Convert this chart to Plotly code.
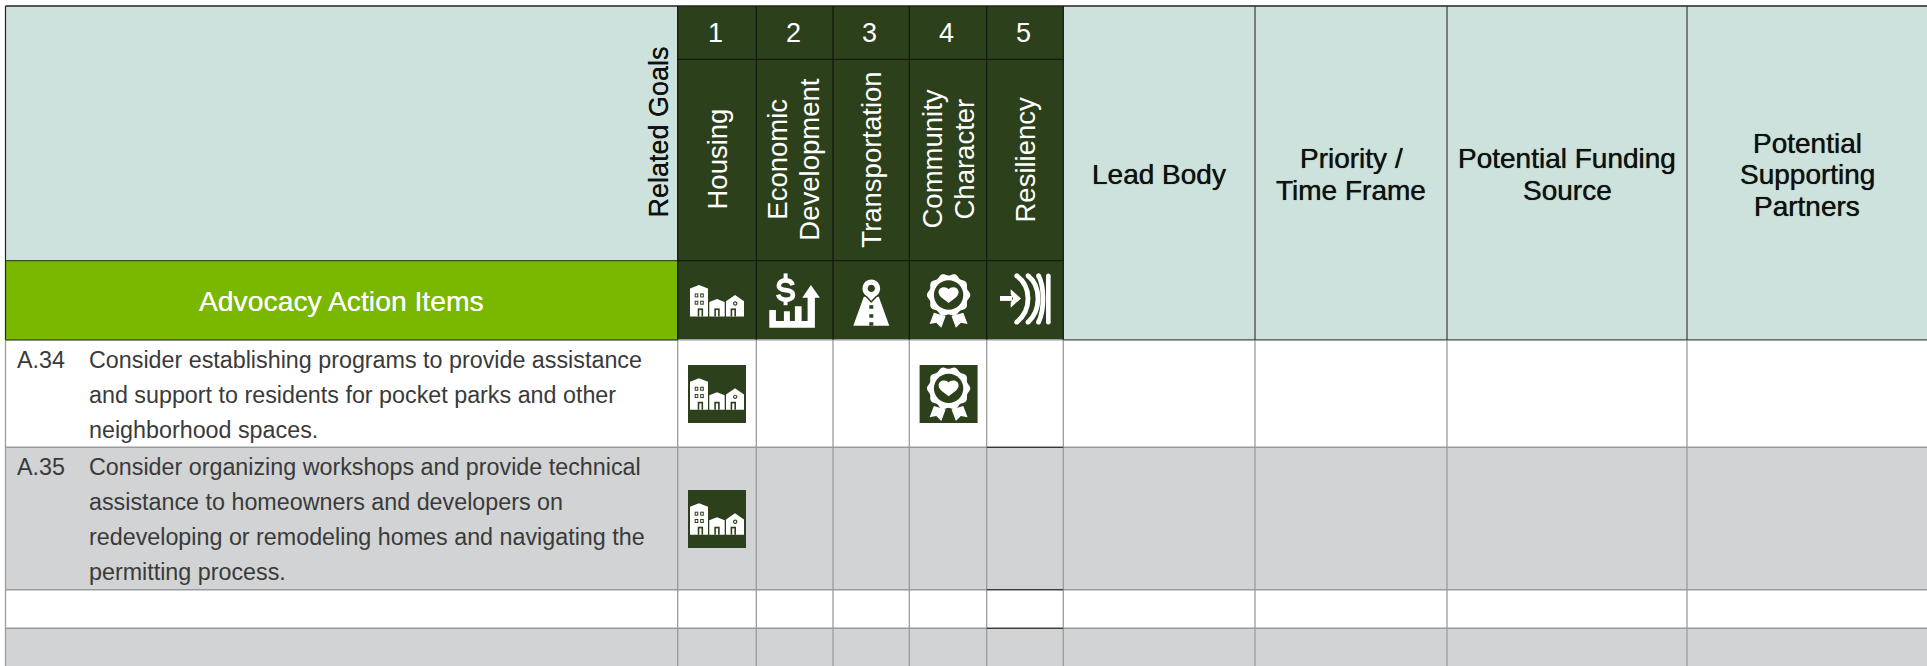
import re
import numpy as np
import plotly.graph_objects as go

# ---------- table content ----------
goal_numbers = ["1", "2", "3", "4", "5"]
goal_names = [["Housing"], ["Economic", "Development"], ["Transportation"],
              ["Community", "Character"], ["Resiliency"]]
goal_icons = ["house", "dollar", "road", "badge", "resil"]
side_headers = [["Lead Body"], ["Priority /", "Time Frame"],
                ["Potential Funding", "Source"],
                ["Potential", "Supporting", "Partners"]]
section_title = "Advocacy Action Items"
related_title = "Related Goals"
item_ids = ["A.34", "A.35", "", ""]
item_lines = [
    ["Consider establishing programs to provide assistance",
     "and support to residents for pocket parks and other",
     "neighborhood spaces."],
    ["Consider organizing workshops and provide technical",
     "assistance to homeowners and developers on",
     "redeveloping or remodeling homes and navigating the",
     "permitting process."],
    [], [],
]
item_goals = [[1, 4], [1], [], []]

# ---------- layout / style ----------
W, H = 1927, 666
X_LEFT = 5.5
GOAL_X = [677.7, 756.3, 833, 909.3, 986.7, 1063.3]
GOAL_LABEL_DX = [0, -1.5, 0, 0, 0]
SIDE_X = [1063.3, 1255, 1447, 1687, 1927]
Y_TOP, Y_NUM, Y_NAME, Y_HEAD = 6, 59.3, 260.7, 339.8
ROW_Y = [339.8, 447.3, 589.7, 628.3, 666]
LIGHT, GREEN, DARK, GREY = "#CDE2DC", "#7AB800", "#2D401C", "#D1D3D4"
LINE_GREY, LINE_DARK = "#9A9B9D", "#141A0C"
FONT = "Liberation Sans"
LIGHT_TXT = "#3a3a3a"

shapes, annos = [], []


def rect(x0, y0, x1, y1, fill):
    shapes.append(dict(type="rect", x0=x0, y0=y0, x1=x1, y1=y1, fillcolor=fill,
                       line=dict(width=0), layer="below"))


def line(x0, y0, x1, y1, color, w=1.2):
    shapes.append(dict(type="line", x0=x0, y0=y0, x1=x1, y1=y1,
                       line=dict(color=color, width=w), layer="above"))


def text(x, y, s, size, color="#000", angle=0, anchor="center", weight=None, family=FONT, shadow=None):
    f = dict(family=family, size=size, color=color)
    if weight:
        f["weight"] = weight
    if shadow:
        f["shadow"] = shadow
    annos.append(dict(x=x, y=y, text=s, showarrow=False, textangle=angle, xanchor=anchor,
                      yanchor="middle", font=f, xref="x", yref="y"))


def path(ox, oy, d, fill=None, stroke=None, w=0):
    nums = iter(range(10**6))

    def rep(m):
        i = next(nums)
        v = float(m.group(0)) + (ox if i % 2 == 0 else oy)
        return f"{v:.2f}"
    d2 = re.sub(r"-?\d+\.?\d*", rep, d)
    s = dict(type="path", path=d2, layer="above",
             line=dict(width=w, color=stroke if stroke else "rgba(0,0,0,0)"))
    if fill:
        s["fillcolor"] = fill
    shapes.append(s)


def circ(cx, cy, r):
    k = 0.5523 * r
    return (f"M{cx-r} {cy} C{cx-r} {cy-k} {cx-k} {cy-r} {cx} {cy-r} "
            f"C{cx+k} {cy-r} {cx+r} {cy-k} {cx+r} {cy} "
            f"C{cx+r} {cy+k} {cx+k} {cy+r} {cx} {cy+r} "
            f"C{cx-k} {cy+r} {cx-r} {cy+k} {cx-r} {cy} Z")


def box(x0, y0, x1, y1):
    return f"M{x0} {y0} L{x1} {y0} L{x1} {y1} L{x0} {y1} Z"


def icon_house(ox, oy):
    W_ = "#FFFFFF"
    path(ox, oy, "M2 16.8 L11 13.3 L20 16.8 L20 44.7 L2 44.7 Z", W_)
    path(ox, oy, "M21.3 30.3 L29 27.3 L36.7 30.3 L36.7 44.7 L21.3 44.7 Z", W_)
    path(ox, oy, "M38 29.5 L47 23.3 L56 29.5 L56 44.7 L38 44.7 Z", W_)
    for wx in (6.7, 12.2):
        for wy in (21.7, 29):
            path(ox, oy, box(wx, wy, wx + 3.6, wy + 4), DARK)
            path(ox, oy, box(wx + 1, wy + 1, wx + 2.6, wy + 3), W_)
    for dx in (9.7, 26.3, 42.6):
        path(ox, oy, box(dx, 36.7, dx + 5.4, 44.7), DARK)
        path(ox, oy, box(dx + 1.6, 38.4, dx + 3.8, 44.7), W_)
    path(ox, oy, circ(47.2, 31.8, 2.2), DARK)
    path(ox, oy, circ(47.2, 31.8, 1), W_)


def icon_dollar(ox, oy):
    W_ = "#FFFFFF"
    path(ox, oy, "M26 13.5 C25 10 22.5 8.7 19 8.7 C15 8.7 12.2 10.7 12.2 13.8 C12.2 17 15 18.1 19 18.4 "
                 "C23 18.7 26.3 20 26.3 23.2 C26.3 26.3 23 28 19 28 C15 28 12.5 26.5 11.5 23",
         None, W_, 4.6)
    path(ox, oy, box(17, 1.7, 21, 7), W_)
    path(ox, oy, box(17, 29, 21, 33.5), W_)
    path(ox, oy, "M2.7 38.3 L9.3 38.3 L9.3 49.3 L17.3 49.3 L17.3 39.5 L23.3 39.5 L23.3 49.3 "
                 "L28.3 49.3 L28.3 34.5 L35 34.5 L35 49.3 L41 49.3 L41 26 L35.7 26 L44.3 13.3 L53.3 26 "
                 "L48.3 26 L48.3 56 L2.7 56 Z", W_)


def icon_road(ox, oy):
    W_ = "#FFFFFF"
    path(ox, oy, "M20.5 25 L35.5 25 L46 54 L10 54 Z", W_)
    path(ox, oy, circ(28, 16.7, 8.8), DARK, DARK, 2.5)
    path(ox, oy, "M20 21 L28 29.5 L36 21 Z", DARK, DARK, 2.5)
    path(ox, oy, circ(28, 16.7, 8.8), W_)
    path(ox, oy, "M20.2 20.5 L28 29 L35.8 20.5 Z", W_)
    path(ox, oy, circ(28, 16.7, 3.6), DARK)
    for dy in (33.5, 42.5, 50.5):
        path(ox, oy, box(26, dy, 30, dy + 3.5), DARK)


def icon_badge(ox, oy):
    W_ = "#FFFFFF"
    th = np.linspace(0, 2 * np.pi, 121)[:-1]
    rad = 20.6 + 1.1 * np.cos(10 * th)
    pts = np.column_stack([29 + rad * np.cos(th), 23.3 + rad * np.sin(th)])
    d = "M" + " L".join(f"{a:.2f} {b:.2f}" for a, b in pts) + " Z"
    path(ox, oy, d, W_)
    path(ox, oy, circ(29, 23.3, 14.7), DARK)
    path(ox, oy, "M29 17.5 C27 14.5 19 14.5 19 20.5 C19 25 25 28 29 31.3 C33 28 39 25 39 20.5 C39 14.5 31 14.5 29 17.5 Z", W_)
    path(ox, oy, "M14.3 41 L10 52.3 L16.7 51 L21.7 56 L26 44.5 Z", W_)
    path(ox, oy, "M43.7 41 L48 52.3 L41.3 51 L36.3 56 L32 44.5 Z", W_)


def icon_resil(ox, oy):
    W_ = "#FFFFFF"
    path(ox, oy, box(3, 24.3, 15, 29.2), W_)
    path(ox, oy, "M13.7 17.5 L24 26.7 L13.7 36 L13.7 31 L16 26.7 L13.7 22.5 Z", W_)
    for d0, mid in [(19.7, 31), (31, 41), (41.5, 46)]:
        b = d0 + (mid - d0) / 0.75
        path(ox, oy, f"M{d0} 4 C{b} 15 {b} 38 {d0} 50.5", None, W_, 4.8)
        path(ox, oy, circ(d0, 4, 2.4), W_)
        path(ox, oy, circ(d0, 50.5, 2.4), W_)
    path(ox, oy, box(49, 4, 53.6, 50.5), W_)
    path(ox, oy, circ(51.3, 4, 2.3), W_)
    path(ox, oy, circ(51.3, 50.5, 2.3), W_)


ICONS = dict(house=icon_house, dollar=icon_dollar, road=icon_road, badge=icon_badge, resil=icon_resil)

# ---------- backgrounds ----------
rect(X_LEFT, Y_TOP, GOAL_X[0], Y_NAME, LIGHT)
rect(X_LEFT, Y_NAME, GOAL_X[0], Y_HEAD, GREEN)
rect(GOAL_X[0], Y_TOP, GOAL_X[-1], Y_HEAD, DARK)
rect(SIDE_X[0], Y_TOP, W, Y_HEAD, LIGHT)
rect(X_LEFT, ROW_Y[1], W, ROW_Y[2], GREY)
rect(X_LEFT, ROW_Y[3], W, ROW_Y[4], GREY)

# ---------- grid ----------
for x in [X_LEFT] + GOAL_X + SIDE_X[1:-1]:
    line(x, Y_HEAD, x, H, LINE_GREY, 1.3)
for y in ROW_Y[:-1]:
    line(X_LEFT, y, W, y, LINE_GREY, 1.4)
for y in (ROW_Y[1], ROW_Y[2], ROW_Y[3]):
    line(GOAL_X[4], y, GOAL_X[5], y, "#3a3a3a", 1.2)
line(X_LEFT, Y_TOP, W, Y_TOP, "#222", 1.3)
line(X_LEFT, Y_TOP, X_LEFT, Y_HEAD, "#222", 1.2)
line(X_LEFT, Y_NAME, GOAL_X[0], Y_NAME, "#3d4a2a", 1.2)
line(X_LEFT, Y_HEAD, GOAL_X[0], Y_HEAD, "#3d4a2a", 1.2)
line(SIDE_X[0], Y_HEAD, W, Y_HEAD, "#6f7470", 1.4)
for x in GOAL_X:
    line(x, Y_TOP, x, Y_HEAD, LINE_DARK, 1.3)
for y in (Y_NUM, Y_NAME):
    line(GOAL_X[0], y, GOAL_X[-1], y, LINE_DARK, 1.3)
for x in SIDE_X[1:-1]:
    line(x, Y_TOP, x, Y_HEAD, "#2a2a2a", 1.1)

# ---------- header text ----------
text(658, 132.5, related_title, 27, "#111", angle=-90, shadow="0 0 0.5px #111")
text((X_LEFT + GOAL_X[0]) / 2, 301, section_title, 28.3, "#FFFFFF", shadow="0 0 0.6px #FFFFFF")
LINE_GAP = 31.5
for i, num in enumerate(goal_numbers):
    cx = (GOAL_X[i] + GOAL_X[i + 1]) / 2
    text(cx - 1.5, 33, num, 27, "#FFFFFF")
    names = goal_names[i]
    for j, nm in enumerate(names):
        text(cx + GOAL_LABEL_DX[i] + (j - (len(names) - 1) / 2) * 32, 159.5, nm, 27.5, "#FFFFFF", angle=-90)
    ICONS[goal_icons[i]](GOAL_X[i] + 10.3, 271.7)

for k, lines in enumerate(side_headers):
    cx = (SIDE_X[k] + SIDE_X[k + 1]) / 2
    for j, ln in enumerate(lines):
        text(cx, 174.5 + (j - (len(lines) - 1) / 2) * LINE_GAP, ln, 28, "#111", shadow="0 0 0.7px #111")

# ---------- rows ----------
for r, (iid, lines, goals) in enumerate(zip(item_ids, item_lines, item_goals)):
    y0, y1 = ROW_Y[r], ROW_Y[r + 1]
    ty = y0 + (20.5 if r == 0 else 19.5)
    if iid:
        text(14.5, ty, iid, 23.3, LIGHT_TXT, anchor="left")
    for j, ln in enumerate(lines):
        text(86.5, ty + j * 34.9, ln, 23.3, LIGHT_TXT, anchor="left")
    for g in goals:
        bx = GOAL_X[g - 1] + 10.3
        by = (y0 + y1) / 2 - 28.5
        shapes.append(dict(type="rect", x0=bx, y0=by, x1=bx + 58, y1=by + 58, fillcolor=DARK,
                           line=dict(width=0), layer="above"))
        ICONS[goal_icons[g - 1]](bx, by)

fig = go.Figure()
fig.update_layout(
    width=W, height=H, margin=dict(l=0, r=0, t=0, b=0),
    paper_bgcolor="#FFFFFF", plot_bgcolor="#FFFFFF", showlegend=False,
    xaxis=dict(range=[0, W], visible=False, fixedrange=True),
    yaxis=dict(range=[H, 0], visible=False, fixedrange=True),
    shapes=shapes, annotations=annos,
)
fig.write_html("out.html", config=dict(displayModeBar=False, staticPlot=True),
               post_script="document.body.style.margin='0';document.body.style.overflow='hidden';")
